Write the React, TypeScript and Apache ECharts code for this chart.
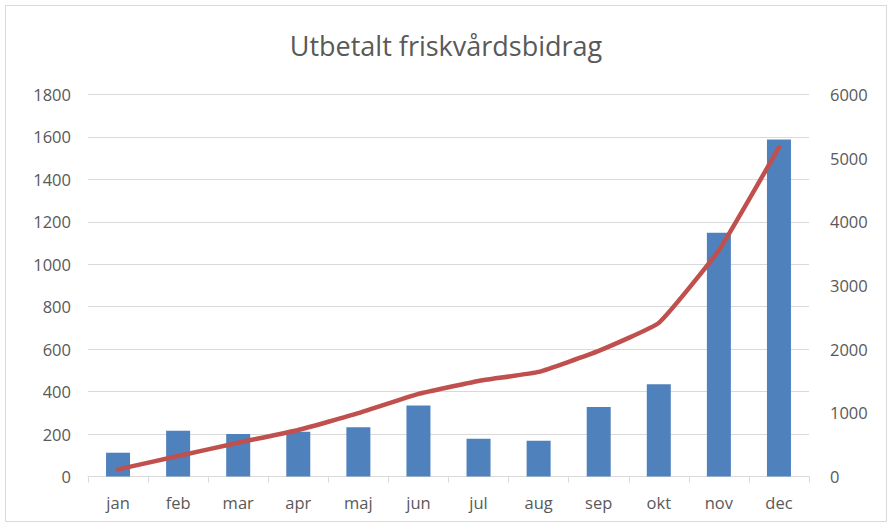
import React, { useEffect, useRef } from "react";
import * as echarts from "echarts";

const months = ["jan", "feb", "mar", "apr", "maj", "jun", "jul", "aug", "sep", "okt", "nov", "dec"];
const monthly = [112, 216, 200, 211, 232, 334, 178, 169, 328, 435, 1149, 1588];
const cumulative = [112, 322, 531, 731, 994, 1297, 1501, 1643, 1973, 2413, 3555, 5170];
const titleText = "Utbetalt friskvårdsbidrag";

const FONT = "'Open Sans', 'Liberation Sans', sans-serif";
const GREY = "#595959";
const LINE_GREY = "#d9d9d9";

export default function App() {
  const ref = useRef<HTMLDivElement>(null);
  useEffect(() => {
    document.body.style.margin = "0";
    const chart = echarts.init(ref.current!, null, { renderer: "svg" });
    chart.setOption({
      animation: false,
      backgroundColor: "#ffffff",
      textStyle: { fontFamily: FONT },
      title: {
        text: titleText,
        left: "center",
        top: 27,
        textStyle: { fontFamily: FONT, fontSize: 27, fontWeight: "normal", color: GREY },
      },
      graphic: [
        {
          type: "rect",
          shape: { x: 5.5, y: 5.5, width: 881, height: 516 },
          style: { fill: "none", stroke: LINE_GREY, lineWidth: 1 },
          silent: true,
        },
      ],
      grid: { left: 88, right: 83, top: 94.5, bottom: 50.5, containLabel: false },
      xAxis: {
        type: "category",
        data: months,
        boundaryGap: true,
        axisLine: { lineStyle: { color: LINE_GREY, width: 1 } },
        axisTick: { show: true, length: 6, lineStyle: { color: LINE_GREY } },
        axisLabel: { color: GREY, fontSize: 16.5, margin: 17, fontFamily: FONT },
      },
      yAxis: [
        {
          type: "value",
          min: 0,
          max: 1800,
          interval: 200,
          axisLine: { show: false },
          axisTick: { show: false },
          splitLine: { lineStyle: { color: LINE_GREY, width: 1 } },
          axisLabel: {
            color: GREY,
            fontSize: 16.5,
            margin: 17,
            fontFamily: FONT,
            formatter: (v: number) => String(v),
          },
        },
        {
          type: "value",
          min: 0,
          max: 6000,
          interval: 1000,
          position: "right",
          axisLine: { show: false },
          axisTick: { show: false },
          splitLine: { show: false },
          axisLabel: {
            color: GREY,
            fontSize: 16.5,
            margin: 21,
            fontFamily: FONT,
            formatter: (v: number) => String(v),
          },
        },
      ],
      series: [
        {
          type: "bar",
          data: monthly,
          yAxisIndex: 0,
          barWidth: 24,
          itemStyle: { color: "#4F81BD" },
        },
        {
          type: "line",
          data: cumulative,
          yAxisIndex: 1,
          smooth: 0.12,
          symbol: "none",
          lineStyle: { color: "#C0504D", width: 4.5, cap: "round", join: "round" },
        },
      ],
    });
    return () => chart.dispose();
  }, []);
  return <div ref={ref} style={{ width: 892, height: 527 }} />;
}
